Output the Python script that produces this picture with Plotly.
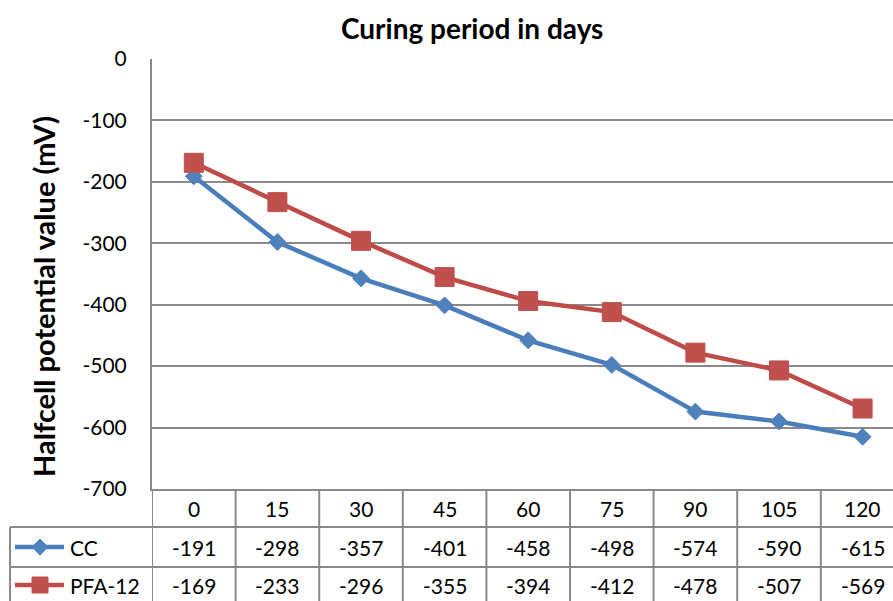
import plotly.graph_objects as go

days = ["0", "15", "30", "45", "60", "75", "90", "105", "120"]
cc = [-191, -298, -357, -401, -458, -498, -574, -590, -615]
pfa12 = [-169, -233, -296, -355, -394, -412, -478, -507, -569]
series_names = ["CC", "PFA-12"]
y_tickvals = [0, -100, -200, -300, -400, -500, -600, -700]
y_ticktext = ["0", "-100", "-200", "-300", "-400", "-500", "-600", "-700"]

W, H = 893, 601
L, R, T, B = 152, 0, 59, 112
PW, PH = W - L - R, H - T - B
COLW = 83.6
FONT = "Lato"
GRID = "#898989"
BLUE_L, BLUE_M = "#4A7EBB", "#4F81BD"
RED_L, RED_M = "#BE4B48", "#C0504D"


def px_x(p):
    return (p - L) / PW


def px_y(p):
    return (H - B - p) / PH


x_end = -0.5 + PW / COLW

fig = go.Figure()
fig.add_trace(go.Scatter(
    x=list(range(len(days))), y=cc, mode="lines+markers", name=series_names[0],
    line=dict(color=BLUE_L, width=4.5),
    marker=dict(symbol="diamond", size=13, color=BLUE_M, line=dict(color=BLUE_M, width=1)),
    cliponaxis=False))
fig.add_trace(go.Scatter(
    x=list(range(len(days))), y=pfa12, mode="lines+markers", name=series_names[1],
    line=dict(color=RED_L, width=4.5),
    marker=dict(symbol="square", size=19, color=RED_M, line=dict(color=RED_M, width=1)),
    cliponaxis=False))

shapes = []
ann = []

# table rows (pixel y)
y_top, y_hdr, y_r1, y_r2 = 489, 527, 567, 607
for yy in [y_hdr, y_r1]:
    shapes.append(dict(type="line", xref="paper", yref="paper",
                       x0=px_x(10), x1=1, y0=px_y(yy), y1=px_y(yy),
                       line=dict(color=GRID, width=2)))
shapes.append(dict(type="line", xref="paper", yref="paper",
                   x0=px_x(10), x1=px_x(10), y0=px_y(y_hdr), y1=px_y(H + 5),
                   line=dict(color=GRID, width=2)))
for k in range(len(days) + 1):
    xb = k - 0.5
    shapes.append(dict(type="line", xref="x", yref="paper",
                       x0=xb, x1=xb, y0=0, y1=px_y(H + 5),
                       line=dict(color=GRID, width=2)))

tf = dict(size=21, color="#000", family=FONT)
for i, d in enumerate(days):
    ann.append(dict(x=i, y=px_y((y_top + y_hdr) / 2), xref="x", yref="paper", text=d,
                    showarrow=False, font=tf, xanchor="center", yanchor="middle"))
    ann.append(dict(x=i, y=px_y((y_hdr + y_r1) / 2), xref="x", yref="paper", text=str(cc[i]),
                    showarrow=False, font=tf, xanchor="center", yanchor="middle"))
    ann.append(dict(x=i, y=px_y((y_r1 + y_r2) / 2 - 2), xref="x", yref="paper", text=str(pfa12[i]),
                    showarrow=False, font=tf, xanchor="center", yanchor="middle"))

# legend keys in table
ky1 = (y_hdr + y_r1) / 2
ky2 = (y_r1 + y_r2) / 2 - 2
shapes.append(dict(type="line", xref="paper", yref="paper", x0=px_x(15), x1=px_x(64),
                   y0=px_y(ky1), y1=px_y(ky1), line=dict(color=BLUE_L, width=4.5)))
cx = 40
d = 8
shapes.append(dict(type="path", xref="paper", yref="paper",
                   path=f"M {px_x(cx - d)} {px_y(ky1)} L {px_x(cx)} {px_y(ky1 - d)} L {px_x(cx + d)} {px_y(ky1)} L {px_x(cx)} {px_y(ky1 + d)} Z",
                   fillcolor=BLUE_M, line=dict(color=BLUE_M, width=1)))
shapes.append(dict(type="line", xref="paper", yref="paper", x0=px_x(15), x1=px_x(64),
                   y0=px_y(ky2), y1=px_y(ky2), line=dict(color=RED_L, width=4.5)))
s = 8
shapes.append(dict(type="rect", xref="paper", yref="paper",
                   x0=px_x(cx - s), x1=px_x(cx + s), y0=px_y(ky2 - s), y1=px_y(ky2 + s),
                   fillcolor=RED_M, line=dict(color=RED_M, width=1)))
ann.append(dict(x=px_x(68), y=px_y(ky1), xref="paper", yref="paper", text=series_names[0],
                showarrow=False, font=tf, xanchor="left", yanchor="middle"))
ann.append(dict(x=px_x(68), y=px_y(ky2), xref="paper", yref="paper", text=series_names[1],
                showarrow=False, font=tf, xanchor="left", yanchor="middle"))

# titles
ann.append(dict(x=px_x(472), y=px_y(28), xref="paper", yref="paper",
                text="<b>Curing period in days</b>", showarrow=False,
                font=dict(size=28, color="#000", family=FONT), xanchor="center", yanchor="middle"))
ann.append(dict(x=px_x(43), y=px_y(297), xref="paper", yref="paper",
                text="<b>Halfcell potential value (mV)</b>", showarrow=False, textangle=-90,
                font=dict(size=29, color="#000", family=FONT), xanchor="center", yanchor="middle"))

fig.update_layout(
    width=W, height=H,
    margin=dict(l=L, r=R, t=T, b=B, pad=0),
    paper_bgcolor="white", plot_bgcolor="white",
    showlegend=False,
    shapes=shapes, annotations=ann,
    xaxis=dict(type="linear", range=[-0.5, x_end], showgrid=False, zeroline=False,
               showticklabels=False, showline=True, linecolor=GRID, linewidth=2, ticks=""),
    yaxis=dict(range=[-700, 0], tickvals=y_tickvals, ticktext=y_ticktext,
               showgrid=True, gridcolor=GRID, gridwidth=2,
               zeroline=False, showline=True, linecolor=GRID, linewidth=2, ticks="",
               ticklabelstandoff=19,
               tickfont=dict(size=21, color="#000", family=FONT)),
)

fig.write_html("out.html")
